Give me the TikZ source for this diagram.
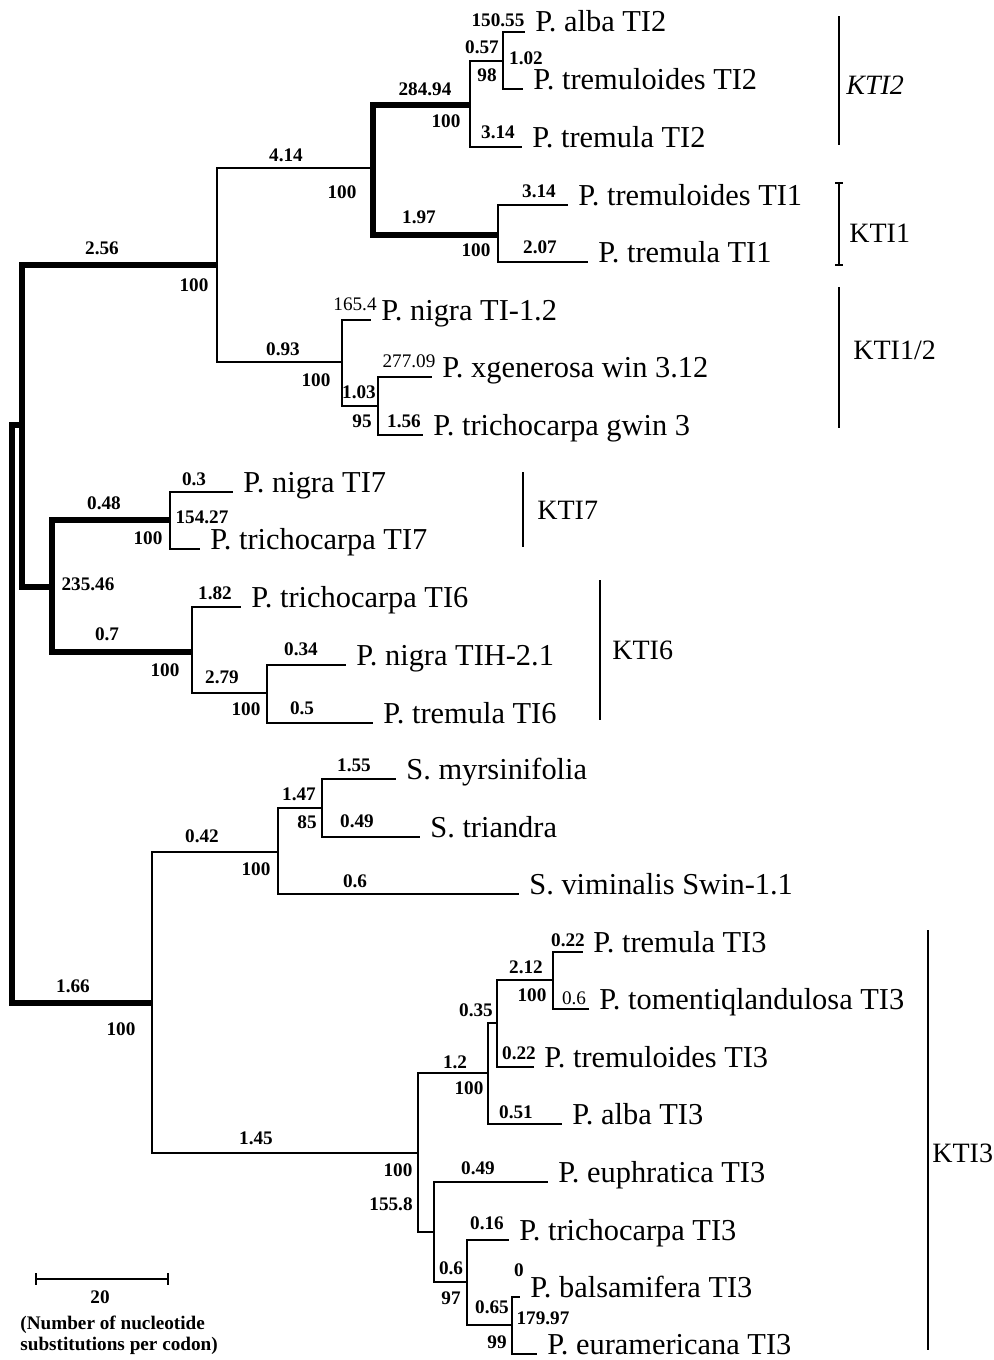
\documentclass[tikz,border=0pt]{standalone}
\usepackage{fontspec}
\setmainfont{Liberation Serif}
\tikzset{
  branch/.style={line width=0.8pt},
  thickbranch/.style={line width=2.8pt},
  cladebar/.style={line width=0.75pt},
  leaf/.style={anchor=base west, inner xsep=5pt, inner ysep=0pt, font=\fontsize{15.2}{18}\selectfont},
  num/.style={inner sep=0pt, font=\fontsize{9.6}{11}\selectfont\bfseries},
  numreg/.style={inner sep=0pt, font=\fontsize{9.6}{11}\selectfont},
  clade/.style={anchor=west, inner sep=0pt, font=\fontsize{14}{16}\selectfont},
  scaletext/.style={anchor=base west, inner sep=0pt, font=\fontsize{9.6}{10.5}\selectfont\bfseries},
}
\begin{document}
\begin{tikzpicture}[x=0.5pt, y=-0.5pt]
    \useasboundingbox (0,0) rectangle (994,1360);

    % --- Internal nodes of the tree ---
    \coordinate (root)     at (12,714);
    \coordinate (nA)       at (22,425);
    \coordinate (nKTI12)   at (217,265);
    \coordinate (nKTI21)   at (373,168);
    \coordinate (nKTI2)    at (470,105);
    \coordinate (nAlbTre)  at (503,61);
    \coordinate (nKTI1)    at (498,235);
    \coordinate (nKTI12b)  at (342,362);
    \coordinate (nGen)     at (378,406);
    \coordinate (nB)       at (52,587);
    \coordinate (nKTI7)    at (170,520);
    \coordinate (nKTI6)    at (192,652);
    \coordinate (nNigTre6) at (267,693);
    \coordinate (nC)       at (152,1003);
    \coordinate (nSal)     at (278,852);
    \coordinate (nSal2)    at (322,808);
    \coordinate (nKTI3)    at (418,1153);
    \coordinate (nD)       at (488,1073);
    \coordinate (nE)       at (497,1023);
    \coordinate (nF)       at (553,980);
    \coordinate (nG)       at (434,1232);
    \coordinate (nH)       at (467,1282);
    \coordinate (nI)       at (512,1325);

    % --- Leaves (node sits at the end of its branch) ---
    \node[leaf] (alba2)        at (525,32)   {P. alba TI2};
    \node[leaf] (tremuloides2) at (523,89)   {P. tremuloides TI2};
    \node[leaf] (tremula2)     at (522,147)  {P. tremula TI2};
    \node[leaf] (tremuloides1) at (568,205)  {P. tremuloides TI1};
    \node[leaf] (tremula1)     at (588,262)  {P. tremula TI1};
    \node[leaf] (nigra12)      at (371,320)  {P. nigra TI-1.2};
    \node[leaf] (xgenerosa)    at (432,377)  {P. xgenerosa win 3.12};
    \node[leaf] (trichogwin)   at (423,435)  {P. trichocarpa gwin 3};
    \node[leaf] (nigra7)       at (233,492)  {P. nigra TI7};
    \node[leaf] (tricho7)      at (200,549)  {P. trichocarpa TI7};
    \node[leaf] (tricho6)      at (241,607)  {P. trichocarpa TI6};
    \node[leaf] (nigraTIH)     at (346,665)  {P. nigra TIH-2.1};
    \node[leaf] (tremula6)     at (373,723)  {P. tremula TI6};
    \node[leaf] (myrsini)      at (396,779)  {S. myrsinifolia};
    \node[leaf] (triandra)     at (420,837)  {S. triandra};
    \node[leaf] (viminalis)    at (519,894)  {S. viminalis Swin-1.1};
    \node[leaf] (tremula3)     at (583,952)  {P. tremula TI3};
    \node[leaf] (tomentiq)     at (589,1009) {P. tomentiqlandulosa TI3};
    \node[leaf] (tremuloides3) at (534,1067) {P. tremuloides TI3};
    \node[leaf] (alba3)        at (562,1124) {P. alba TI3};
    \node[leaf] (euphratica)   at (548,1182) {P. euphratica TI3};
    \node[leaf] (tricho3)      at (509,1240) {P. trichocarpa TI3};
    \node[leaf] (balsami)      at (520,1297) {P. balsamifera TI3};
    \node[leaf] (euramer)      at (537,1354) {P. euramericana TI3};

    % --- Branches ---
    \foreach \p/\c in {root/nA, root/nC, nA/nKTI12, nA/nB, nKTI21/nKTI2, nKTI21/nKTI1, nB/nKTI7, nB/nKTI6}
        \draw[thickbranch] (\p) |- (\c);
    \foreach \p/\c in {nKTI12/nKTI21, nKTI12/nKTI12b, nKTI2/nAlbTre, nKTI12b/nGen, nKTI6/nNigTre6,
                       nC/nSal, nC/nKTI3, nSal/nSal2, nKTI3/nD, nKTI3/nG, nD/nE, nE/nF, nG/nH, nH/nI}
        \draw[branch] (\p) |- (\c);
    \foreach \p/\c in {nAlbTre/alba2, nAlbTre/tremuloides2, nKTI2/tremula2, nKTI1/tremuloides1,
                       nKTI1/tremula1, nKTI12b/nigra12, nGen/xgenerosa, nGen/trichogwin,
                       nKTI7/nigra7, nKTI7/tricho7, nKTI6/tricho6, nNigTre6/nigraTIH,
                       nNigTre6/tremula6, nSal2/myrsini, nSal2/triandra, nSal/viminalis,
                       nF/tremula3, nF/tomentiq, nE/tremuloides3, nD/alba3, nG/euphratica,
                       nH/tricho3, nI/balsami, nI/euramer}
        \draw[branch] (\p) |- (\c.base west);

    % --- Branch values ---
    \foreach \x/\y/\t [count=\i] in {
        498/20/150.55, 482/47/0.57, 526/58/1.02, 487/75/98, 498/132/3.14,
        425/89/284.94, 446/121/100, 286/155/4.14, 342/192/100, 419/217/1.97,
        476/250/100, 539/191/3.14, 540/247/2.07, 102/248/2.56, 194/285/100,
        283/349/0.93, 316/380/100, 359/392/1.03, 362/421/95, 404/421/1.56,
        194/479/0.3, 104/503/0.48, 202/517/154.27, 148/538/100, 88/584/235.46,
        215/593/1.82, 107/634/0.7, 301/649/0.34, 165/670/100, 222/677/2.79,
        246/709/100, 302/708/0.5,
        354/765/1.55, 299/794/1.47, 307/822/85, 357/821/0.49, 202/836/0.42,
        256/869/100, 355/881/0.6, 73/986/1.66, 121/1029/100,
        256/1138/1.45, 398/1170/100, 391/1204/155.8, 455/1062/1.2, 469/1088/100,
        568/940/0.22, 526/967/2.12, 532/995/100, 476/1010/0.35, 519/1053/0.22,
        516/1112/0.51, 478/1168/0.49, 487/1223/0.16, 451/1268/0.6, 451/1298/97,
        519/1270/0, 492/1307/0.65, 543/1318/179.97, 497/1342/99}
        \node[num] (val\i) at (\x,\y) {\t};
    \node[numreg] (valNigra) at (355,304) {165.4};
    \node[numreg] (valGen)   at (409,361) {277.09};
    \node[numreg] (valTom)   at (574,998) {0.6};

    % --- Clade bars ---
    \draw[cladebar] (839,16) -- (839,145);
    \node[clade] (cKTI2) at (846,85) {\textit{KTI2}};
    \draw[cladebar] (839,183) -- (839,265);
    \draw[cladebar] (835,183) -- (843,183);
    \draw[cladebar] (835,265) -- (843,265);
    \node[clade] (cKTI1) at (849,233) {KTI1};
    \draw[cladebar] (839,287) -- (839,428);
    \node[clade] (cKTI12) at (853,350) {KTI1/2};
    \draw[cladebar] (523,472) -- (523,547);
    \node[clade] (cKTI7) at (537,510) {KTI7};
    \draw[cladebar] (600,580) -- (600,720);
    \node[clade] (cKTI6) at (612,650) {KTI6};
    \draw[cladebar] (928,930) -- (928,1350);
    \node[clade] (cKTI3) at (932,1153) {KTI3};

    % --- Scale bar ---
    \coordinate (sbL) at (36,1279);
    \coordinate (sbR) at (168,1279);
    \draw[branch] (sbL) -- (sbR);
    \draw[branch] ([yshift=3pt]sbL) -- ([yshift=-3pt]sbL);
    \draw[branch] ([yshift=3pt]sbR) -- ([yshift=-3pt]sbR);
    \node[num] (sbVal) at (100,1297) {20};
    \node[scaletext] (sbText1) at (20,1329) {(Number of nucleotide};
    \node[scaletext] (sbText2) at (20,1350) {substitutions per codon)};
\end{tikzpicture}
\end{document}
